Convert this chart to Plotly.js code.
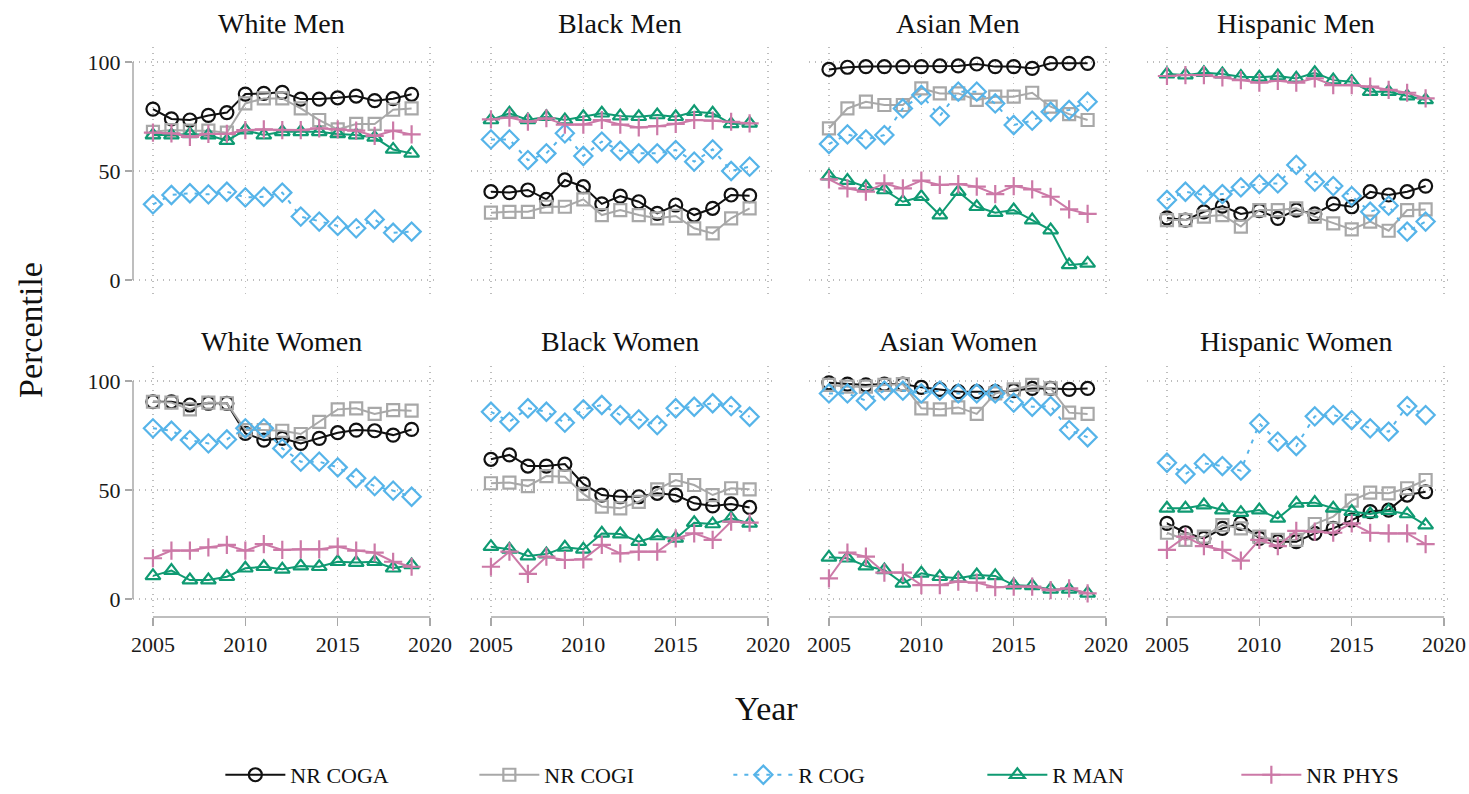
<!DOCTYPE html>
<html>
<head>
<meta charset="utf-8">
<script src="https://cdn.plot.ly/plotly-3.0.1.min.js"></script>
<style>html,body{margin:0;padding:0;background:#fff;overflow:hidden;}#chart{width:1469px;height:794px;}</style>
</head>
<body>
<div id="chart"></div>
<script>
const years = [2005,2006,2007,2008,2009,2010,2011,2012,2013,2014,2015,2016,2017,2018,2019];
const panels = ["White Men","Black Men","Asian Men","Hispanic Men","White Women","Black Women","Asian Women","Hispanic Women"];
const seriesNames = ["NR COGA","NR COGI","R COG","R MAN","NR PHYS"];
const xTicks = [2005,2010,2015,2020];
const yTicks = [0,50,100];

// rows follow the order of panels
const nrCoga = [
  [78.4,73.9,73.4,75.5,76.8,85.3,85.6,86.1,83.0,83.0,83.6,84.4,82.3,83.2,85.2],
  [40.5,40.1,41.3,37.0,45.9,42.8,34.9,38.5,35.9,30.6,34.4,29.8,32.9,39.0,38.7],
  [96.6,97.6,97.9,97.9,97.9,97.9,98.2,98.2,99.1,97.9,97.9,97.1,99.4,99.4,99.4],
  [28.5,27.5,31.3,33.9,30.3,31.8,28.3,32.1,30.3,34.9,33.6,40.5,39.0,40.5,43.1],
  [90.5,90.5,89.0,89.8,89.8,76.0,72.9,73.7,71.4,73.7,76.3,77.5,77.2,75.2,77.8],
  [64.1,66.1,61.0,61.0,61.9,52.8,47.7,46.9,46.9,48.5,47.7,43.9,42.7,43.6,42.0],
  [99.2,98.6,98.2,98.6,98.6,97.1,96.2,95.1,95.1,95.1,95.6,96.6,96.6,96.2,96.6],
  [34.7,30.4,27.8,32.4,34.7,27.8,26.3,26.3,30.1,32.4,36.2,40.1,40.8,47.7,49.2]
];
const nrCogi = [
  [68.0,68.8,68.5,68.5,67.6,81.0,83.3,83.3,78.7,73.4,69.1,71.6,71.6,78.1,78.7],
  [30.9,31.3,31.3,33.6,33.6,37.0,29.8,32.1,29.8,28.3,29.4,23.7,21.4,28.3,32.9],
  [69.6,78.7,81.8,80.3,80.3,87.9,85.6,85.6,82.6,84.1,84.1,85.9,79.5,76.1,73.4],
  [27.5,27.5,29.1,29.8,24.5,32.1,32.1,32.9,29.1,26.0,23.2,26.8,22.6,32.1,32.4],
  [90.5,90.1,87.0,90.1,89.8,77.5,77.5,77.2,75.7,81.3,87.0,87.5,84.9,86.7,86.4],
  [53.1,53.4,51.8,56.4,56.1,48.2,42.4,41.6,44.6,50.3,54.6,52.3,47.7,50.8,50.3],
  [98.2,97.4,97.4,98.2,98.6,87.5,87.0,87.9,84.9,94.3,96.2,98.2,96.6,85.5,84.9],
  [30.4,27.1,28.6,33.9,32.4,28.6,27.1,27.1,34.4,37.8,45.1,48.8,48.5,50.8,54.6]
];
const rCog = [
  [34.7,39.0,39.8,39.3,40.5,37.9,38.2,40.1,29.1,26.8,24.8,23.7,27.8,21.7,22.2],
  [64.5,64.5,55.0,58.1,67.3,56.9,63.5,59.3,58.1,58.1,59.6,54.3,59.9,50.0,52.0],
  [62.4,66.8,64.5,66.5,78.7,84.9,75.2,86.4,86.4,81.0,71.1,73.1,77.2,78.0,81.8],
  [36.7,40.5,39.0,39.4,42.5,44.0,44.3,52.8,45.1,43.1,38.5,31.3,34.1,22.2,26.8],
  [78.3,77.2,72.9,71.4,73.2,78.3,78.3,69.1,63.0,63.0,60.4,55.4,51.8,49.7,46.9],
  [85.9,81.3,87.5,85.9,80.9,87.0,89.0,84.4,82.4,79.8,87.5,88.2,89.8,88.5,83.6],
  [94.3,94.3,91.0,95.6,95.6,94.3,95.6,94.3,94.3,94.3,90.1,88.2,88.5,77.5,74.2],
  [62.5,57.3,62.2,61.0,58.9,80.6,72.2,70.2,83.8,84.4,82.1,78.3,76.8,88.5,84.4]
];
const rMan = [
  [66.5,66.5,67.0,66.5,63.9,68.8,66.5,68.0,68.0,68.0,67.0,66.5,65.4,59.9,58.1],
  [73.4,76.5,73.4,74.9,73.4,74.9,76.5,75.2,74.9,75.7,74.9,77.2,76.5,71.6,71.9],
  [47.7,45.6,42.8,41.3,35.9,38.2,29.8,40.5,33.6,30.9,32.1,27.5,22.9,6.9,7.6],
  [94.5,94.0,95.1,94.5,93.3,93.0,93.6,92.5,95.1,91.7,91.0,86.4,86.4,84.4,82.6],
  [10.6,13.0,8.7,8.7,10.2,14.1,14.8,13.6,15.1,14.8,17.1,16.7,17.1,14.1,15.6],
  [24.0,22.8,19.7,20.6,23.7,22.8,30.1,29.8,26.3,28.9,27.8,35.0,34.4,37.0,34.7],
  [19.1,18.7,15.1,13.3,7.2,11.8,10.2,9.5,11.0,10.6,6.4,6.0,4.4,4.4,2.6],
  [41.6,41.6,43.1,40.8,39.6,40.8,37.0,43.9,44.2,41.6,40.1,39.0,40.5,39.0,33.9]
];
const nrPhys = [
  [67.6,67.3,65.7,67.0,67.0,68.8,69.1,68.8,68.8,69.6,69.1,68.5,66.1,68.5,66.8],
  [73.7,74.5,72.6,74.2,71.3,71.3,73.4,71.3,70.0,70.6,71.6,73.4,73.1,72.6,71.9],
  [46.2,42.0,40.5,44.3,42.0,45.6,43.6,44.0,42.8,39.4,43.1,41.6,38.2,32.4,30.3],
  [93.6,94.0,94.0,93.0,91.7,90.5,91.4,90.5,92.5,89.4,89.4,88.7,87.2,85.9,83.3],
  [18.7,22.2,22.2,23.7,24.8,22.2,25.2,22.5,22.8,22.8,24.0,22.2,21.3,17.1,14.8],
  [14.8,21.7,11.5,19.4,17.9,18.2,24.8,20.9,21.7,21.7,27.8,30.1,27.1,35.5,35.0],
  [9.5,21.3,19.4,12.1,12.1,6.4,6.4,8.0,7.5,5.4,5.7,5.7,4.1,4.9,2.6],
  [22.5,28.6,24.3,22.5,17.6,27.1,24.3,31.3,30.9,30.4,34.7,30.4,30.1,30.1,25.2]
];

const seriesData = [nrCoga, nrCogi, rCog, rMan, nrPhys];
const colors = ["#111111","#a8a8a8","#56b4e9","#0f9a72","#cc79a7"];
const symbols = ["circle-open","square-open","diamond-open","triangle-up-open","cross-thin-open"];
const sizes = [13,12,14,13,13];
const dashes = ["solid","solid","4px,7px","solid","solid"];

const W = 1469, H = 794;
const colPx = [[133,436],[471,774],[809,1112],[1147,1450]];
const rowPx = [[47,298],[366,617]];
const serif = "'Liberation Serif', 'Times New Roman', serif";

const traces = [];
const layout = {
  width: W, height: H,
  margin: {l:0, r:0, t:0, b:0, autoexpand: false},
  paper_bgcolor: "#ffffff", plot_bgcolor: "#ffffff",
  font: {family: serif, color: "#1a1a1a"},
  showlegend: true,
  legend: {
    orientation: "h", x: 0.150, y: 0.024, xanchor: "left", yanchor: "middle",
    font: {family: serif, size: 22, color: "#111"},
    entrywidth: 179, entrywidthmode: "pixels", itemwidth: 60,
    bgcolor: "rgba(0,0,0,0)"
  },
  annotations: [],
  shapes: []
};

panels.forEach((name, p) => {
  const row = Math.floor(p / 4), col = p % 4;
  const suffix = p === 0 ? "" : String(p + 1);
  const xa = "xaxis" + suffix, ya = "yaxis" + suffix;
  const xr = "x" + suffix, yr = "y" + suffix;
  const xd = [colPx[col][0] / W, colPx[col][1] / W];
  const yd = [1 - rowPx[row][1] / H, 1 - rowPx[row][0] / H];
  const bottom = row === 1, left = col === 0;
  layout[xa] = {
    domain: xd, anchor: yr, range: [2003.92, 2020.32],
    tickvals: xTicks, ticktext: xTicks.map(String),
    showticklabels: bottom, ticks: bottom ? "outside" : "",
    ticklen: 8, tickwidth: 1.5, tickcolor: "#a8a8a8",
    tickfont: {family: serif, size: 22, color: "#1a1a1a"},
    showgrid: true, gridcolor: "#bdbdbd", griddash: "1px,5px", gridwidth: 1.5,
    zeroline: false, showline: false, fixedrange: true
  };
  layout[ya] = {
    domain: yd, anchor: xr, range: [-8.26, 106.9],
    tickvals: yTicks, ticktext: yTicks.map(String),
    showticklabels: left, ticks: left ? "outside" : "",
    ticklen: 7, tickwidth: 1.5, tickcolor: "#a8a8a8",
    tickfont: {family: serif, size: 22, color: "#1a1a1a"},
    showgrid: true, gridcolor: "#bdbdbd", griddash: "1px,5px", gridwidth: 1.5,
    zeroline: false, showline: false, fixedrange: true
  };
  if (left) {
    layout.shapes.push({type: "line", xref: xr + " domain", yref: yr, x0: 0, x1: 0, y0: 0, y1: 100,
      line: {color: "#a8a8a8", width: 1.5}});
  }
  if (bottom) {
    layout.shapes.push({type: "line", xref: xr, yref: yr + " domain", x0: 2005, x1: 2020, y0: 0, y1: 0,
      line: {color: "#a8a8a8", width: 1.5}});
  }
  layout.annotations.push({
    text: name, xref: "paper", yref: "paper",
    x: (xd[0] + xd[1]) / 2 - 0.002, y: row === 0 ? 1 - 23 / H : 1 - 342 / H,
    xanchor: "center", yanchor: "middle", showarrow: false,
    font: {family: serif, size: 28, color: "#111"}
  });
  seriesNames.forEach((s, k) => {
    traces.push({
      type: "scatter", mode: "lines+markers",
      x: years, y: seriesData[k][p], xaxis: xr, yaxis: yr,
      name: s, legendgroup: s, showlegend: p === 0,
      line: {color: colors[k], width: 2, dash: dashes[k]},
      marker: {symbol: symbols[k], size: sizes[k], color: colors[k],
               line: {color: colors[k], width: 2.2}},
      hoverinfo: "x+y+name"
    });
  });
});

layout.annotations.push({
  text: "Percentile", xref: "paper", yref: "paper", x: 30 / W, y: 1 - 330 / H,
  textangle: -90, showarrow: false, xanchor: "center", yanchor: "middle",
  font: {family: serif, size: 34, color: "#111"}
});
layout.annotations.push({
  text: "Year", xref: "paper", yref: "paper", x: 766 / W, y: 1 - 708 / H,
  showarrow: false, xanchor: "center", yanchor: "middle",
  font: {family: serif, size: 34, color: "#111"}
});

Plotly.newPlot("chart", traces, layout, {displayModeBar: false, staticPlot: true});
</script>
</body>
</html>
